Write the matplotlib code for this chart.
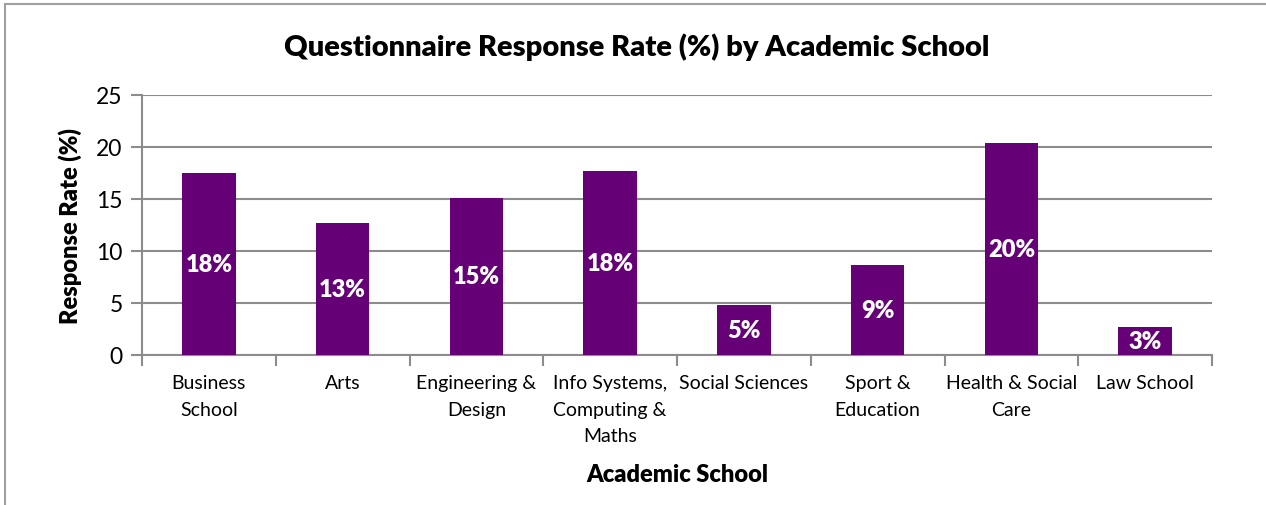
import matplotlib
matplotlib.use('Agg')
import matplotlib.pyplot as plt
from matplotlib.patches import Rectangle
import numpy as np

plt.rcParams['font.family'] = ['Lato', 'DejaVu Sans']

schools = ['Business\nSchool', 'Arts', 'Engineering &\nDesign',
           'Info Systems,\nComputing &\nMaths', 'Social Sciences',
           'Sport &\nEducation', 'Health & Social\nCare', 'Law School']
response_rate = [17.5, 12.7, 15.1, 17.7, 4.8, 8.7, 20.4, 2.7]
yticks = [0, 5, 10, 15, 20, 25]

purple = '#660077'
grey = '#8c8c8c'

fig = plt.figure(figsize=(12.66, 5.06), dpi=100)
ax = fig.add_axes([142 / 1266, 1 - 356 / 506, 1070 / 1266, 260 / 506])

# outer chart frame
fig.patches.append(Rectangle((5 / 1266, -0.2), 1.2, 1.2 - 5 / 506,
                             transform=fig.transFigure, fill=False,
                             edgecolor='#a0a0a0', linewidth=1.5))

x = np.arange(len(schools))
bars = ax.bar(x, response_rate, width=0.4, color=purple, zorder=3)

for b, v in zip(bars, response_rate):
    ax.text(b.get_x() + b.get_width() / 2, v / 2, f'{v:.0f}%',
            ha='center', va='center', color='white', fontsize=17,
            fontweight='heavy', zorder=4)

ax.set_xlim(-0.5, len(schools) - 0.5)
ax.set_ylim(0, 25)
ax.set_yticks(yticks)
ax.tick_params(axis='y', labelsize=16.5, length=8, width=1.5, color=grey, pad=6)
ax.yaxis.grid(True, color=grey, linewidth=1.5, zorder=0)

# category labels centred, tick marks on the boundaries
ax.set_xticks(x)
ax.set_xticklabels(schools, fontsize=14, linespacing=1.65)
ax.tick_params(axis='x', length=0, pad=14)
ax.set_xticks(np.arange(-0.5, len(schools)), minor=True)
ax.tick_params(axis='x', which='minor', length=8, width=1.5, color=grey)

for side in ['top', 'right']:
    ax.spines[side].set_visible(False)
for side in ['left', 'bottom']:
    ax.spines[side].set_color(grey)
    ax.spines[side].set_linewidth(1.5)

fig.text(637 / 1266, 1 - 47 / 506,
         'Questionnaire Response Rate (%) by Academic School',
         ha='center', va='center', fontsize=21, fontweight='heavy')
ax.set_ylabel('Response Rate (%)', fontsize=17, fontweight='heavy', labelpad=10)
ax.set_xlabel('Academic School', fontsize=17, fontweight='heavy', labelpad=14)

fig.savefig('out.png', dpi=100, facecolor='white')
